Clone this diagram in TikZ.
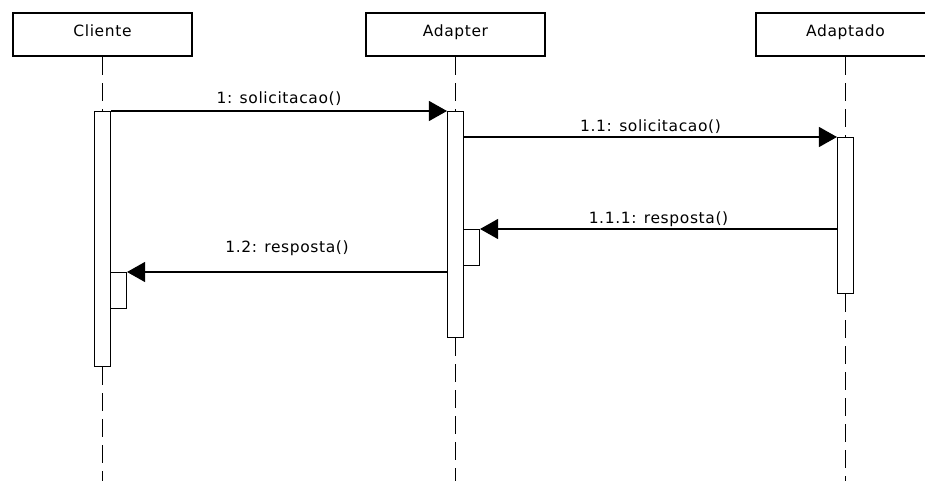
\documentclass[tikz,border=0pt]{standalone}
\usepackage{fontspec}
\newfontfamily\umlfont{DejaVu Sans}[LetterSpace=4]
\usetikzlibrary{arrows.meta}
\begin{document}
\begin{tikzpicture}[x=1pt,y=-1pt,
  txt/.style={font=\umlfont\fontsize{15.5}{18}\selectfont},
  obj/.style={draw, line width=2.4pt, fill=white, minimum width=179pt, minimum height=43pt,
              inner sep=0pt, text height=11pt, text depth=7pt, txt},
  act/.style={draw, line width=1.1pt, fill=white, minimum width=16pt, inner sep=0pt, anchor=north},
  life/.style={line width=1.1pt, dash pattern=on 18pt off 8pt},
  msg/.style={line width=1.1pt, -{Triangle[length=18pt,width=20pt]}},
  lbl/.style={txt, anchor=base, inner sep=0pt}]
\useasboundingbox (0,0) rectangle (925,481);
\clip (0,0) rectangle (925,481);

% object heads
\node[obj] (cli) at (102.5,34.5) {Cliente};
\node[obj] (adp) at (455.5,34.5) {Adapter};
\node[obj] (adt) at (845.5,34.5) {Adaptado};

% activation bars (positions only; drawn again over the lifelines)
\node[act, minimum height=255pt] (actC) at (102.5,111) {};
\node[act, minimum height=226pt] (actA) at (455.5,111) {};
\node[act, minimum height=156pt] (actD) at (845.5,137) {};
\coordinate (bottom) at (0,481);

% lifelines
\draw[life] (cli.south) -- (actC.north);
\draw[life] (actC.south) -- (actC.south |- bottom);
\draw[life] (adp.south) -- (actA.north);
\draw[life] (actA.south) -- (actA.south |- bottom);
\draw[life] (adt.south) -- (actD.north);
\draw[life] (actD.south) -- (actD.south |- bottom);

% bars over the lifelines
\node[act, minimum height=255pt] at (102.5,111) {};
\node[act, minimum height=226pt] at (455.5,111) {};
\node[act, minimum height=156pt] at (845.5,137) {};

% nested return activations
\node[act, minimum height=36pt] (actA2) at (471.5,229) {};
\node[act, minimum height=36pt] (actC2) at (118.5,272) {};

% messages
\draw[msg] (actC.north east) -- (actA.north west)
  node[lbl, midway, yshift=7pt] {1: solicitacao()};
\draw[msg] (actA.east |- actD.north) -- (actD.north west)
  node[lbl, midway, yshift=5pt] {1.1: solicitacao()};
\draw[msg] (actD.west |- actA2.north) -- (actA2.north east)
  node[lbl, midway, yshift=6pt] {1.1.1: resposta()};
\draw[msg] (actA.west |- actC2.north) -- (actC2.north east)
  node[lbl, midway, yshift=20pt] {1.2: resposta()};
\end{tikzpicture}
\end{document}
